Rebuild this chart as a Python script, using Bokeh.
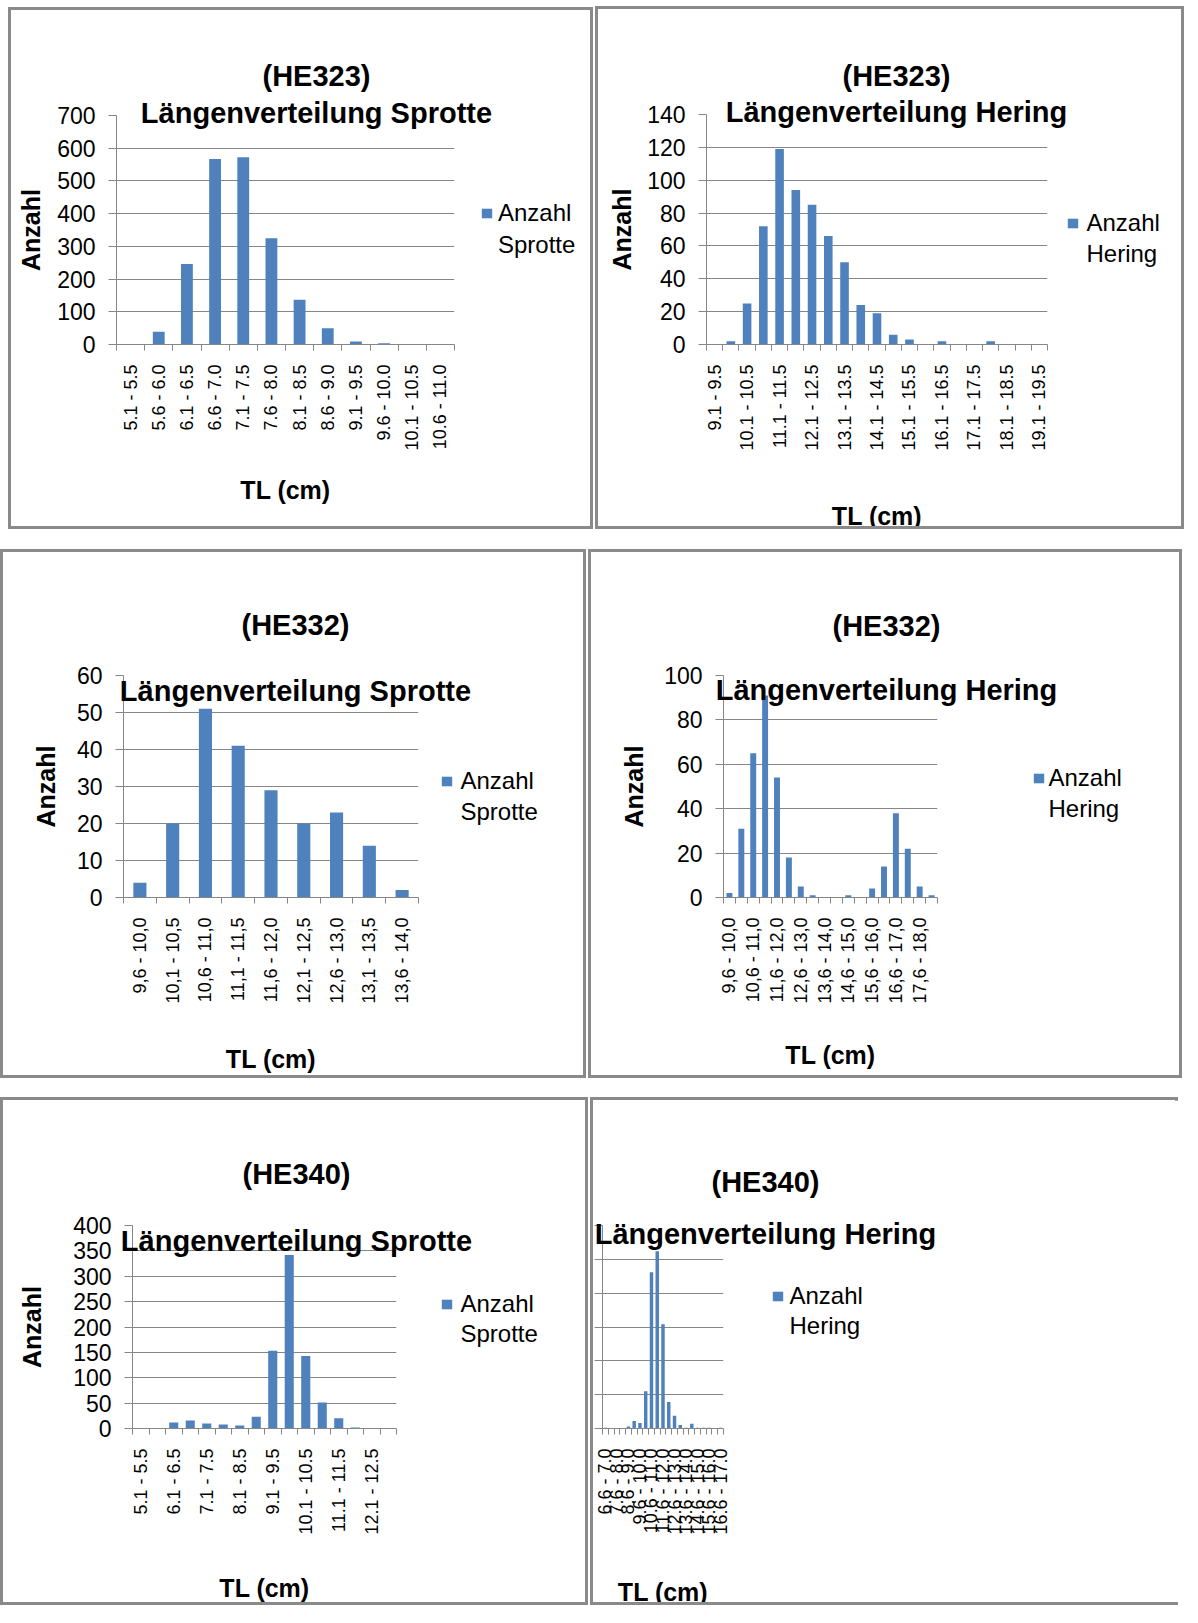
import math
from bokeh.plotting import figure
from bokeh.models import Range1d, FixedTicker, Legend, LegendItem, Title
from bokeh.layouts import row, column
from bokeh.embed import file_html
from bokeh.resources import INLINE

FONT = "Liberation Sans"
BAR = "#4F81BD"
GRID = "#868686"

# ---------------- data ----------------
sprotte_he323_cats = ["5.1 - 5.5", "5.6 - 6.0", "6.1 - 6.5", "6.6 - 7.0", "7.1 - 7.5", "7.6 - 8.0",
                      "8.1 - 8.5", "8.6 - 9.0", "9.1 - 9.5", "9.6 - 10.0", "10.1 - 10.5", "10.6 - 11.0"]
sprotte_he323_vals = [0, 39, 246, 567, 572, 325, 137, 50, 9, 4, 0, 0]

hering_he323_cats = ["9.1 - 9.5", "9.6 - 10.0", "10.1 - 10.5", "10.6 - 11.0", "11.1 - 11.5", "11.6 - 12.0",
                     "12.1 - 12.5", "12.6 - 13.0", "13.1 - 13.5", "13.6 - 14.0", "14.1 - 14.5", "14.6 - 15.0",
                     "15.1 - 15.5", "15.6 - 16.0", "16.1 - 16.5", "16.6 - 17.0", "17.1 - 17.5", "17.6 - 18.0",
                     "18.1 - 18.5", "18.6 - 19.0", "19.1 - 19.5"]
hering_he323_vals = [0, 2, 25, 72, 119, 94, 85, 66, 50, 24, 19, 6, 3, 0, 2, 0, 0, 2, 0, 0, 0]

sprotte_he332_cats = ["9,6 - 10,0", "10,1 - 10,5", "10,6 - 11,0", "11,1 - 11,5", "11,6 - 12,0",
                      "12,1 - 12,5", "12,6 - 13,0", "13,1 - 13,5", "13,6 - 14,0"]
sprotte_he332_vals = [4, 20, 51, 41, 29, 20, 23, 14, 2]

hering_he332_cats = ["9,6 - 10,0", "10,1 - 10,5", "10,6 - 11,0", "11,1 - 11,5", "11,6 - 12,0", "12,1 - 12,5",
                     "12,6 - 13,0", "13,1 - 13,5", "13,6 - 14,0", "14,1 - 14,5", "14,6 - 15,0", "15,1 - 15,5",
                     "15,6 - 16,0", "16,1 - 16,5", "16,6 - 17,0", "17,1 - 17,5", "17,6 - 18,0", "18,1 - 18,5"]
hering_he332_vals = [2, 31, 65, 91, 54, 18, 5, 1, 0, 0, 1, 0, 4, 14, 38, 22, 5, 1]

sprotte_he340_cats = ["5.1 - 5.5", "5.6 - 6.0", "6.1 - 6.5", "6.6 - 7.0", "7.1 - 7.5", "7.6 - 8.0",
                      "8.1 - 8.5", "8.6 - 9.0", "9.1 - 9.5", "9.6 - 10.0", "10.1 - 10.5", "10.6 - 11.0",
                      "11.1 - 11.5", "11.6 - 12.0", "12.1 - 12.5", "12.6 - 13.0"]
sprotte_he340_vals = [0, 0, 12, 16, 10, 8, 6, 23, 153, 342, 143, 51, 20, 2, 0, 0]

hering_he340_cats = ["6.6 - 7.0", "7.1 - 7.5", "7.6 - 8.0", "8.1 - 8.5", "8.6 - 9.0", "9.1 - 9.5",
                     "9.6 - 10.0", "10.1 - 10.5", "10.6 - 11.0", "11.1 - 11.5", "11.6 - 12.0", "12.1 - 12.5",
                     "12.6 - 13.0", "13.1 - 13.5", "13.6 - 14.0", "14.1 - 14.5", "14.6 - 15.0", "15.1 - 15.5",
                     "15.6 - 16.0", "16.1 - 16.5", "16.6 - 17.0"]
hering_he340_vals = [1, 0, 0, 0, 3, 11, 8, 55, 231, 262, 154, 39, 19, 5, 1, 7, 1, 1, 1, 0, 1]

titles = ["Längenverteilung Sprotte", "Längenverteilung Hering"]
cruises = ["(HE323)", "(HE332)", "(HE340)"]
legend_line1 = "Anzahl"
legend_line2 = ["Sprotte", "Hering"]
x_title = "TL (cm)"
y_title = "Anzahl"

# Arial/Liberation Sans Bold advance widths (em) used to centre the titles
BOLD_W = {"L": .611, "ä": .556, "n": .611, "g": .611, "e": .556, "v": .556, "r": .389, "t": .333,
          "i": .278, "l": .278, "u": .611, " ": .278, "S": .667, "p": .611, "o": .611, "H": .722,
          "(": .333, ")": .333, "E": .667, "0": .556, "2": .556, "3": .556, "4": .556}
TITLE_PX = 29
TH = 33  # approx. text box height of the title font


def text_w(s, px):
    return sum(BOLD_W.get(c, .6) for c in s) * px


def build(cats, vals, title, cruise, leg2, W, H, margin, frame, ymax, ystep, every, bw,
          tcx, t1, t2, xl, leg, yl_dist):
    fl, ft, fw, fh = frame
    cw, ch = W - 6, H - 6
    n = len(cats)
    p = figure(width=cw, height=ch, output_backend="svg", toolbar_location=None,
               x_range=Range1d(-0.5, n - 0.5), y_range=Range1d(0, ymax),
               min_border_left=fl - 3, min_border_top=ft - 3,
               min_border_right=cw - (fl - 3) - fw, min_border_bottom=ch - (ft - 3) - fh,
               background_fill_color="white", border_fill_color="white", outline_line_color=None)
    p.margin = margin
    p.styles = {"border": "3px solid #8a8a8a"}

    r = p.vbar(x=list(range(n)), top=vals, width=bw, fill_color=BAR, line_color=None)
    dummy = p.vbar(x=[], top=[], width=bw, fill_alpha=0, line_alpha=0)

    # y axis
    yt = FixedTicker(ticks=list(range(0, ymax + 1, ystep)), minor_ticks=[])
    p.yaxis.ticker = yt
    p.ygrid.ticker = yt
    p.ygrid.grid_line_color = GRID
    p.ygrid.grid_line_width = 1
    p.xgrid.visible = False
    ya = p.yaxis[0]
    ya.axis_line_color = GRID
    ya.major_tick_line_color = GRID
    ya.major_tick_out = 8
    ya.major_tick_in = 0
    ya.minor_tick_line_color = None
    ya.major_label_text_font = FONT
    ya.major_label_text_font_size = "23px"
    ya.major_label_text_color = "black"
    ya.major_label_standoff = 13
    tickw = len(str(ymax)) * 0.556 * 23
    ya.axis_label = y_title
    ya.axis_label_text_font = FONT
    ya.axis_label_text_font_size = "25px"
    ya.axis_label_text_font_style = "bold"
    ya.axis_label_text_color = "black"
    ya.axis_label_standoff = int(round(yl_dist - (8 + 13 + tickw + 14.4)))

    # x axis: labels at centres, tick marks at category boundaries
    major = list(range(0, n, every))
    xa = p.xaxis[0]
    xa.ticker = FixedTicker(ticks=major, minor_ticks=[i - 0.5 for i in range(n + 1)])
    xa.major_label_overrides = {i: cats[i] for i in major}
    xa.major_label_orientation = math.pi / 2
    xa.axis_line_color = GRID
    xa.major_tick_line_color = None
    xa.major_tick_out = 0
    xa.major_tick_in = 0
    xa.minor_tick_line_color = GRID
    xa.minor_tick_out = 6
    xa.minor_tick_in = 0
    xa.major_label_text_font = FONT
    xa.major_label_text_font_size = "18px"
    xa.major_label_text_color = "black"
    xa.major_label_standoff = 14
    xa.axis_label = x_title
    xa.axis_label_text_font = FONT
    xa.axis_label_text_font_size = "25px"
    xa.axis_label_text_font_style = "bold"
    xa.axis_label_text_color = "black"
    xa.axis_label_standoff = int(round((xl[1] - (ft + fh)) - 100 - 14.5))

    # titles (two lines) above the frame, centred on the chart area
    d2 = ft - t2
    d1 = ft - t1
    s2 = int(round(2 * d2 - TH))
    s1 = int(round(2 * (d1 - 2 * d2) - TH))
    p.title.text = cruise
    p.title.align = "left"
    p.title.offset = tcx - text_w(cruise, TITLE_PX) / 2 - fl
    p.title.standoff = s2
    p.title.vertical_align = "bottom"
    p.title.text_font = FONT
    p.title.text_font_size = f"{TITLE_PX}px"
    p.title.text_font_style = "bold"
    p.title.text_color = "black"
    p.add_layout(Title(text=title, align="left", offset=tcx - text_w(title, TITLE_PX) / 2 - fl,
                       standoff=s1, vertical_align="bottom", text_font=FONT,
                       text_font_size=f"{TITLE_PX}px", text_font_style="bold",
                       text_color="black"), "above")

    # legend to the right of the frame
    sq_cx, sq_cy, txt_l, l2y = leg
    row_h = 28
    gap = int(round((l2y - sq_cy) - row_h))
    box_h = 2 * row_h + gap
    lg = Legend(items=[LegendItem(label=legend_line1, renderers=[r]),
                       LegendItem(label=leg2, renderers=[dummy])],
                location=(sq_cx - 6.5 - (fl + fw), (ft + fh) - (sq_cy - row_h / 2 + box_h)),
                padding=0, margin=0, spacing=gap, border_line_color=None, background_fill_alpha=0,
                glyph_width=13, glyph_height=12, label_height=row_h,
                label_standoff=int(round(txt_l - (sq_cx + 6.5))),
                label_text_font=FONT, label_text_font_size="24px", label_text_color="black",
                label_text_baseline="middle")
    p.add_layout(lg, "right")
    return p


p1 = build(sprotte_he323_cats, sprotte_he323_vals, titles[0], cruises[0], legend_line2[0],
           591, 528, (7, 0, 0, 8), (108, 108, 338, 257), 700, 100, 1, 0.42,
           308, 39, 75, (278, 502), (478.5, 233.5, 490, 265), 83)
p2 = build(hering_he323_cats, hering_he323_vals, titles[1], cruises[0], legend_line2[1],
           595, 529, (6, 0, 0, 2), (111, 107, 341, 232), 140, 20, 2, 0.53,
           301, 40, 75, (297, 501), (477, 218, 491, 249), 82)
p3 = build(sprotte_he332_cats, sprotte_he332_vals, titles[0], cruises[1], legend_line2[0],
           592, 535, (20, 0, 0, 0), (123, 126, 295, 222), 60, 10, 1, 0.4,
           295, 39, 75, (267, 500), (446, 232, 460, 263), 75)
p4 = build(hering_he332_cats, hering_he332_vals, titles[1], cruises[1], legend_line2[1],
           600, 535, (20, 0, 0, 2), (135, 125, 214, 226), 100, 20, 2, 0.5,
           298, 39, 75, (279, 500), (450, 232, 460, 263), 87)
p5 = build(sprotte_he340_cats, sprotte_he340_vals, titles[0], cruises[2], legend_line2[0],
           594, 514, (19, 0, 0, 0), (132, 128, 264, 204), 400, 50, 2, 0.55,
           296, 39, 76, (263, 482), (446, 208, 460, 238), 98)
p6 = build(hering_he340_cats, hering_he340_vals, titles[1], cruises[2], legend_line2[1],
           594, 514, (19, 0, 0, 2), (133, 118, 278, 224), 300, 50, 2, 0.6,
           296, 38, 74, (279, 496), (465, 210, 478, 240), 93)

layout = column(row(p1, p2), row(p3, p4), row(p5, p6))
open("out.html", "w").write(file_html(layout, INLINE))
